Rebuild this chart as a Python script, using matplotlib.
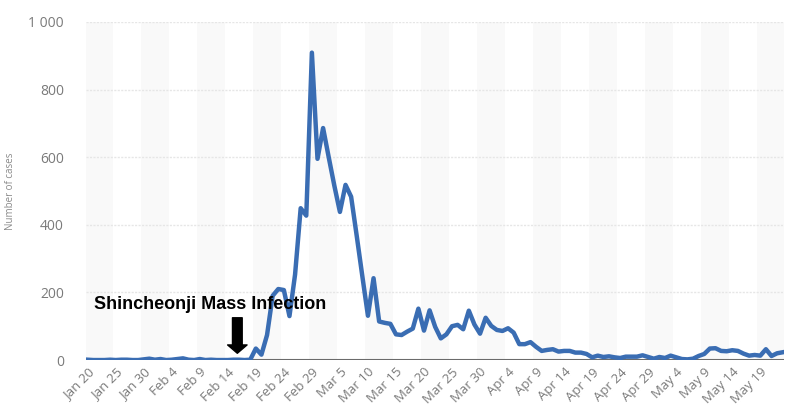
import matplotlib
matplotlib.use("Agg")
import matplotlib.pyplot as plt
from matplotlib.transforms import ScaledTranslation

# daily new cases, Jan 20 .. May 23 (one value per day)
jan = [1, 0, 0, 0, 1, 0, 1, 1, 0, 0, 2, 4]
feb = [1, 3, 0, 1, 3, 5, 1, 0, 3, 0, 1, 0, 0, 0, 1, 1, 0, 1,
       34, 16, 74, 190, 210, 207, 130, 253, 449, 427, 909]
mar = [595, 686, 600, 516, 438, 518, 483, 367, 248, 131, 242, 114, 110, 107, 76, 74,
       84, 93, 152, 87, 147, 98, 64, 76, 100, 104, 91, 146, 105, 78, 125]
apr = [101, 89, 86, 94, 81, 47, 47, 53, 39, 27, 30, 32, 25, 27, 27, 22,
       22, 18, 8, 13, 9, 11, 8, 6, 10, 10, 10, 14, 9, 4]
may = [9, 6, 13, 8, 3, 2, 4, 12, 18, 34, 35, 27, 26, 29, 27, 19,
       13, 15, 13, 32, 12, 20, 23]
cases = jan + feb + mar + apr + may
days = list(range(len(cases)))

tick_labels = ["Jan 20", "Jan 25", "Jan 30", "Feb 4", "Feb 9", "Feb 14", "Feb 19",
               "Feb 24", "Feb 29", "Mar 5", "Mar 10", "Mar 15", "Mar 20", "Mar 25",
               "Mar 30", "Apr 4", "Apr 9", "Apr 14", "Apr 19", "Apr 24", "Apr 29",
               "May 4", "May 9", "May 14", "May 19"]
tick_pos = [5 * i for i in range(len(tick_labels))]
y_ticks = [0, 200, 400, 600, 800, 1000]
y_labels = ["0", "200", "400", "600", "800", "1 000"]

fig = plt.figure(figsize=(8, 4.05), dpi=100)
ax = fig.add_axes([0.1075, 0.111, 0.873, 0.835])

# alternating background bands
for start in range(0, len(cases), 10):
    ax.axvspan(start - 0.5, start + 4.5, color="#f9f9f9", zorder=0, lw=0)

for y in y_ticks[1:]:
    ax.axhline(y, color="#e6e6e6", lw=1, ls=(0, (1.5, 1)), zorder=1)
ax.axhline(0, color="#6b6b6b", lw=1.5, zorder=2)

ax.plot(days, cases, color="#3a6db3", lw=3.2, zorder=3, solid_joinstyle="round")

ax.set_xlim(-0.3, len(cases) - 0.7)
ax.set_ylim(0, 1000)
ax.set_xticks(tick_pos)
ax.set_xticklabels(tick_labels, rotation=45, ha="right", rotation_mode="anchor",
                   fontsize=9.5, color="#7a7a7a", family="Open Sans")
shift = ScaledTranslation(5 / 100, 0, fig.dpi_scale_trans)
for lab in ax.get_xticklabels():
    lab.set_transform(lab.get_transform() + shift)
ax.set_yticks(y_ticks)
ax.set_yticklabels(y_labels, fontsize=10, color="#7a7a7a", family="Open Sans")
ax.tick_params(axis="y", length=0, pad=16)
ax.tick_params(axis="x", length=0, pad=4)
for s in ax.spines.values():
    s.set_visible(False)

fig.text(0.013, 0.528, "Number of cases", rotation=90, va="center", ha="center",
         fontsize=7, color="#8a8a8a", family="Open Sans")

ax.text(1.2, 163, "Shincheonji Mass Infection", fontsize=13, fontweight="bold",
        family="Liberation Sans", color="black", va="center", ha="left", zorder=5)
ax.annotate("", xy=(26.7, 20), xytext=(26.7, 125),
            arrowprops=dict(arrowstyle="simple,head_length=0.6,head_width=1.4,tail_width=0.7",
                            mutation_scale=10, color="black", shrinkA=0, shrinkB=0),
            zorder=5)

plt.savefig("out.png", dpi=100)
